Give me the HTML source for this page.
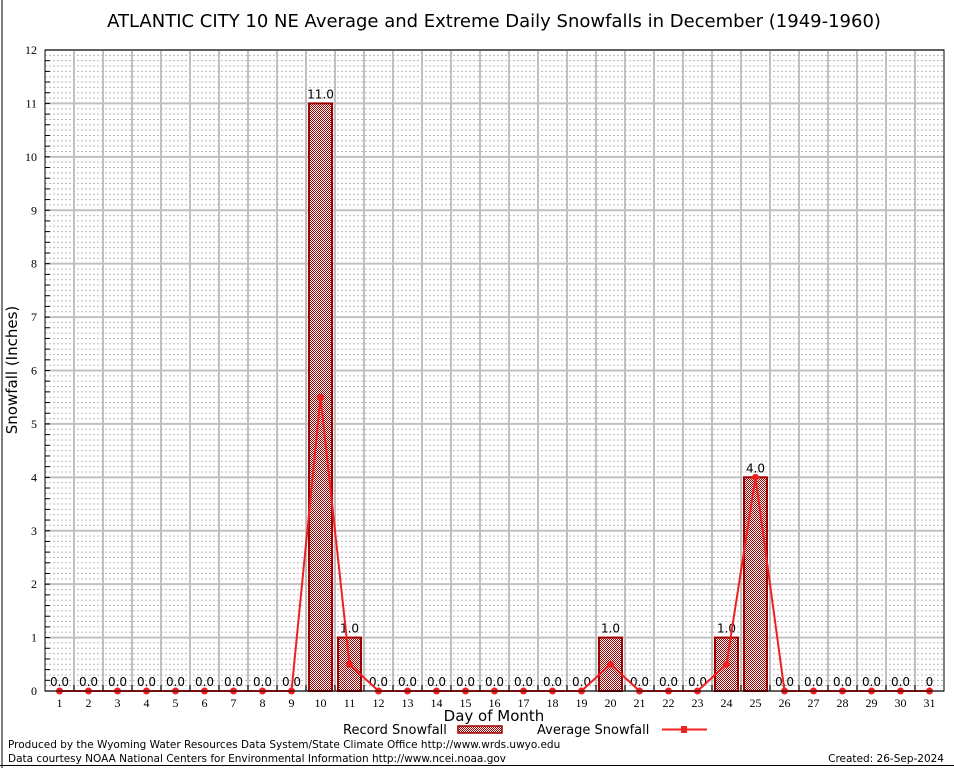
<!DOCTYPE html>
<html><head><meta charset="utf-8"><style>
html,body{margin:0;padding:0;background:#fff;}
svg{display:block;font-family:"DejaVu Sans","Liberation Sans",sans-serif;}
</style></head><body>
<svg id="chart" width="954" height="768" viewBox="0 0 954 768">
<defs>
<pattern id="chk" width="2" height="2" patternUnits="userSpaceOnUse">
<rect width="2" height="2" fill="#fff"/><rect width="1" height="1" fill="#a00000"/><rect x="1" y="1" width="1" height="1" fill="#a00000"/>
</pattern>
</defs>
<line x1="2" y1="0" x2="2" y2="768" stroke="#000"/>
<line x1="0" y1="765.5" x2="954" y2="765.5" stroke="#000"/>
<text x="494" y="27" font-size="18" text-anchor="middle">ATLANTIC CITY 10 NE Average and Extreme Daily Snowfalls in December (1949-1960)</text>
<g id="grid"></g>
<g id="bars"></g>
<g id="line"></g>
<g id="axes"></g>
<text x="17" y="370" font-size="15" text-anchor="middle" transform="rotate(-90 17 370)">Snowfall (Inches)</text>
<text x="494" y="721" font-size="15" text-anchor="middle">Day of Month</text>
<g>
<text x="343" y="734" font-size="13">Record Snowfall</text>
<rect x="458" y="726" width="44" height="7" fill="url(#chk)" stroke="#a00000" stroke-width="1.5"/>
<text x="537" y="734" font-size="13">Average Snowfall</text>
<line x1="662" y1="729.5" x2="707" y2="729.5" stroke="#f02020" stroke-width="2"/>
<rect x="681" y="726" width="6" height="7" fill="#f02020"/>
</g>
<text x="8" y="748" font-size="10.5">Produced by the Wyoming Water Resources Data System/State Climate Office http://www.wrds.uwyo.edu</text>
<text x="8" y="762" font-size="10.5">Data courtesy NOAA National Centers for Environmental Information http://www.ncei.noaa.gov</text>
<text x="944" y="762" font-size="10.5" text-anchor="end">Created:  26-Sep-2024</text>
</svg>
<script>
const days = [1,2,3,4,5,6,7,8,9,10,11,12,13,14,15,16,17,18,19,20,21,22,23,24,25,26,27,28,29,30,31];
const recordSnow = [0,0,0,0,0,0,0,0,0,11,1,0,0,0,0,0,0,0,0,1,0,0,0,1,4,0,0,0,0,0,0];
const avgSnow = [0,0,0,0,0,0,0,0,0,5.5,0.5,0,0,0,0,0,0,0,0,0.5,0,0,0,0.5,4,0,0,0,0,0,0];
const yTicks = [0,1,2,3,4,5,6,7,8,9,10,11,12];
const NS='http://www.w3.org/2000/svg';
const L=45,R=944,T=50,B=691,yMax=12;
const step=(R-L)/days.length;
function xs(d){return L+step*(d-0.5);}
function ys(v){return B-(B-T)*v/yMax;}
function mk(tag,attrs,parent){const e=document.createElementNS(NS,tag);for(const k in attrs)e.setAttribute(k,attrs[k]);parent.appendChild(e);return e;}
const grid=document.getElementById('grid'),bars=document.getElementById('bars'),line=document.getElementById('line'),axes=document.getElementById('axes');
for(let i=1;i<yMax*10;i++){if(i%10===0)continue;const y=ys(i/10);
 const l=mk('line',{x1:L,x2:R,y1:y,y2:y,stroke:'#bbb','stroke-width':1,'stroke-dasharray':'2,2'},grid);
 
 }
for(const t of yTicks){const y=ys(t);
 const l=mk('line',{x1:L,x2:R,y1:y,y2:y,stroke:'#c0c0c0','stroke-width':2},grid);
 
 
 const tx=mk('text',{x:L-8,y:y+4,'font-size':12,'text-anchor':'end','font-family':'Liberation Serif, serif'},axes);tx.textContent=t;
 
 }
for(let k=1;k<days.length;k++){const x=L+step*k;
 const l=mk('line',{x1:x,x2:x,y1:T,y2:B,stroke:'#c0c0c0','stroke-width':2},grid);
 
 }
for(let i=1;i<yMax*5;i++){const y=ys(i/5);
 const l=mk('line',{x1:L,x2:L+5,y1:y,y2:y,stroke:'#000'},axes);
 
 }
const frame=mk('rect',{x:L,y:T,width:R-L,height:B-T,fill:'none',stroke:'#000','stroke-width':1},axes);


days.forEach((d,i)=>{const x=xs(d);
 const tk=mk('line',{x1:L+step*(d-1),x2:L+step*(d-1),y1:B,y2:B-6,stroke:'#000'},axes);
 
 
 const tx=mk('text',{x:x,y:B+16,'font-size':12,'text-anchor':'middle','font-family':'Liberation Serif, serif'},axes);tx.textContent=d;
 
 
 const v=recordSnow[i];
 if(v>0){const b=mk('rect',{x:x-11.5,y:ys(v),width:23,height:B-ys(v),fill:'url(#chk)',stroke:'#a00000','stroke-width':2},bars);
  
  }
 const lb=mk('text',{x:x,y:ys(v)-5,'font-size':12,'text-anchor':'middle'},bars);lb.textContent=(d===31?'0':v.toFixed(1));
 
 
});
const pts=days.map((d,i)=>xs(d)+','+ys(avgSnow[i])).join(' ');
const pl=mk('polyline',{points:pts,fill:'none',stroke:'#f02020','stroke-width':2},line);


days.forEach((d,i)=>{const c=mk('circle',{cx:xs(d),cy:ys(avgSnow[i]),r:3.5,fill:'#f02020'},line);
 
 });
</script>
</body></html>
